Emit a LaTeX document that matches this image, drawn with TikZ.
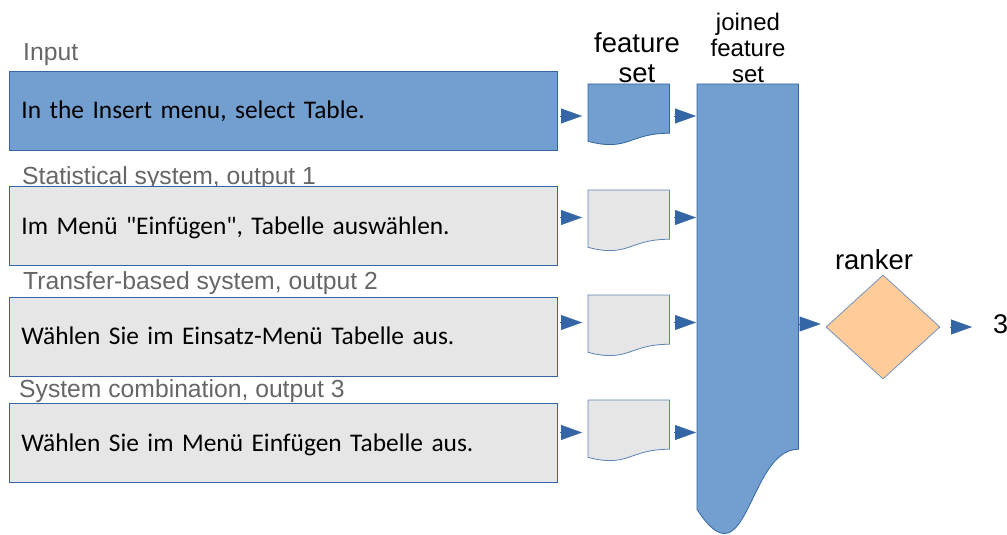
\documentclass[tikz,border=0pt]{standalone}
\usepackage{fontspec}
\setmainfont{Liberation Sans}
\newfontfamily\carlitofont{Carlito}
\usetikzlibrary{arrows.meta,calc,shapes.geometric}
\definecolor{lofill}{HTML}{729FCF}
\definecolor{loline}{HTML}{3465A4}
\definecolor{grayfill}{HTML}{E6E6E6}
\definecolor{graytext}{HTML}{666666}
\definecolor{peach}{HTML}{FFCC99}
\newcommand\docshape[2]{%
  \path[#2] (#1.north west) -- (#1.north east)
    -- ($(#1.north east)!0.802!(#1.south east)$)
    .. controls ($(#1.north)!0.802!(#1.south)$) and ($(#1.north)!1.107!(#1.south)$)
    .. ($(#1.north west)!0.934!(#1.south west)$) -- cycle;}
\tikzset{
  sentbox/.style={draw=loline, line width=0.8pt, anchor=west, minimum height=79pt,
    text width=524pt, inner xsep=12pt, align=left, text height=16.4pt, text depth=0pt,
    font=\carlitofont\fontsize{25.4}{30}\selectfont, text=black},
  syslabel/.style={anchor=base west, inner sep=0pt, text=graytext,
    font=\fontsize{24.7}{28}\selectfont},
  docnode/.style={inner sep=0pt, anchor=north west},
  toplabel/.style={align=center, inner sep=0pt, anchor=base},
  tri/.style={-{Triangle[length=21pt,width=15pt]}, color=loline, line width=0.3pt},
}
\begin{document}
\begin{tikzpicture}[x=1pt,y=-1pt]
\useasboundingbox (0,0) rectangle (1007,535);
% labels
\node[syslabel] (l0) at (23,61) {Input};
\node[syslabel] (l1) at (22,184) {Statistical system, output 1};
\node[syslabel] (l2) at (23,289) {Transfer-based system, output 2};
\node[syslabel] (l3) at (19,397) {System combination, output 3};
% sentence boxes
\node[sentbox, fill=lofill] (b0) at (9,110.5) {In the Insert menu, select Table.};
\node[sentbox, fill=grayfill] (b1) at (9,226) {Im Menü "Einfügen", Tabelle auswählen.};
\node[sentbox, fill=grayfill] (b2) at (9,336.5) {Wählen Sie im Einsatz-Menü Tabelle aus.};
\node[sentbox, fill=grayfill] (b3) at (9,443) {Wählen Sie im Menü Einfügen Tabelle aus.};
% feature set documents
\node[docnode, minimum width=81pt, minimum height=61pt] (f0) at (588,84) {};
\node[docnode, minimum width=81pt, minimum height=61pt] (f1) at (588,190) {};
\node[docnode, minimum width=81pt, minimum height=61pt] (f2) at (588,295) {};
\node[docnode, minimum width=81pt, minimum height=61pt] (f3) at (588,400) {};
\docshape{f0}{fill=lofill, draw=loline, line width=0.8pt}
\docshape{f1}{fill=grayfill, draw=loline!80, line width=0.8pt}
\docshape{f2}{fill=grayfill, draw=loline!80, line width=0.8pt}
\docshape{f3}{fill=grayfill, draw=loline!80, line width=0.8pt}
% joined feature set
\node[docnode, minimum width=101pt, minimum height=455pt] (js) at (697,84) {};
\docshape{js}{fill=lofill, draw=loline, line width=0.8pt}
% ranker
\node[diamond, draw=loline!70, fill=peach, line width=0.8pt, inner sep=0pt,
  minimum width=114pt, minimum height=104pt] (rk) at (883,327) {};
% top labels
\node[toplabel, font=\fontsize{27.5}{30}\selectfont] (tf) at (637,82) {feature\\set};
\node[toplabel, font=\fontsize{24}{26}\selectfont] (tj) at (748,83) {joined\\feature\\set};
\node[toplabel, font=\fontsize{27.5}{30}\selectfont] (tr) at (874,269) {ranker};
\node[anchor=base west, inner sep=0pt, font=\fontsize{27}{30}\selectfont] (out) at (993,333) {3};
% arrows
\foreach \i/\y in {0/116,1/217.5,2/322.5,3/432.5}{
  \draw[tri, shorten <=2pt, shorten >=6pt] (b\i.east |- 0,\y) -- (f\i.west |- 0,\y);
  \draw[tri, shorten <=5pt, shorten >=1pt] (f\i.east |- 0,\y) -- (js.west |- 0,\y);
}
\draw[tri, shorten <=1pt, shorten >=5pt] (js.east |- 0,324) -- (rk.west |- 0,324);
\draw[tri, shorten <=10pt, shorten >=21pt] (rk.east) -- (out.west |- rk.east);
\end{tikzpicture}
\end{document}
